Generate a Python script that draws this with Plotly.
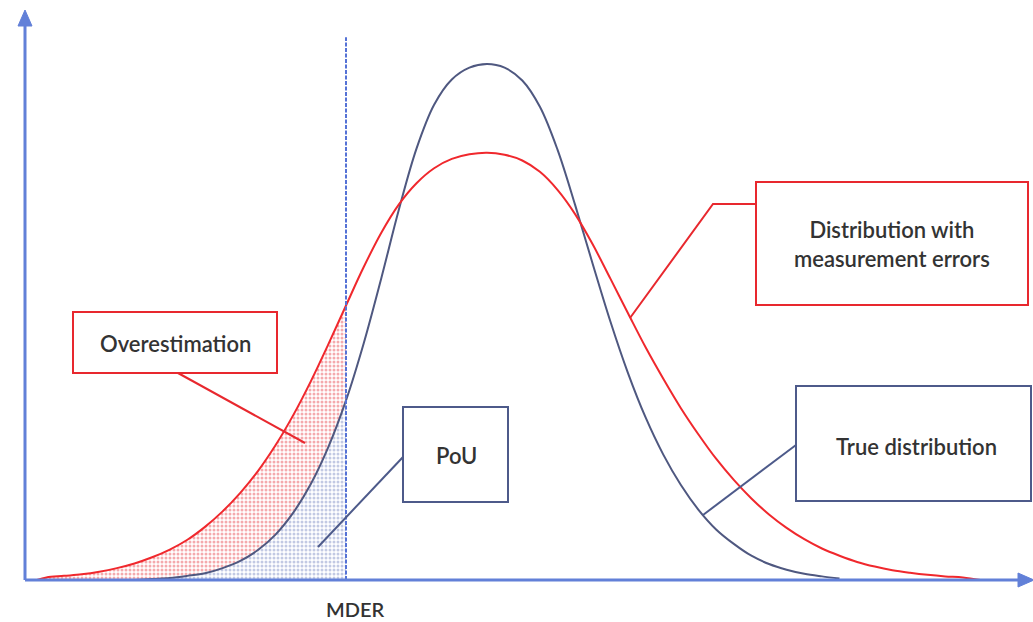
import plotly.graph_objects as go

# ---------------- data ----------------
# x: measured quantity (arbitrary units, axis origin = 0); y: relative frequency (true peak = 100)
true_x = [10.95, 12.71, 14.48, 16.24, 18.0, 19.76, 21.53, 23.29, 25.05, 26.81, 28.58, 30.34,
          32.1, 33.86, 35.63, 37.39, 39.15, 40.91, 42.68, 44.44, 46.2,
          47.96, 49.73, 51.49, 53.25, 55.01, 56.78, 58.54, 60.3, 62.06, 63.83,
          65.59, 67.35, 69.11, 70.88, 72.64, 74.4, 76.16, 77.93, 79.69, 81.45]
true_y = [0.0, 0.2, 0.4, 0.8, 1.3, 2.3, 3.7, 5.8, 8.8, 13.0, 18.6, 25.8,
          34.8, 45.8, 58.5, 71.8, 83.6, 92.1, 97.0, 99.3, 100.0,
          99.3, 96.8, 91.7, 83.4, 72.7, 61.2, 50.1, 40.1, 31.5, 24.3,
          18.4, 13.6, 9.8, 7.0, 4.7, 3.1, 2.0, 1.2, 0.7, 0.3]

meas_x = [1.2, 2.14, 3.9, 5.66, 7.43, 9.19, 10.95, 12.71, 14.48, 16.24, 18.0, 19.76, 21.53,
          23.29, 25.05, 26.81, 28.58, 30.34, 32.1, 33.86, 35.63, 37.39, 39.15, 40.91,
          42.68, 44.44, 46.2,
          47.96, 49.73, 51.49, 53.25, 55.01, 56.78, 58.54, 60.3, 62.06, 63.83, 65.59,
          67.35, 69.11, 70.88, 72.64, 74.4, 76.16, 77.93, 79.69, 81.45, 83.21, 84.98,
          86.74, 88.5, 90.26, 92.03, 93.79, 95.55]
meas_y = [0.0, 0.5, 0.8, 1.1, 1.6, 2.3, 3.2, 4.4, 5.9, 7.8, 10.3, 13.3, 16.9,
          21.1, 26.1, 31.9, 38.5, 45.7, 53.2, 60.6, 67.3, 72.8, 76.9, 79.8,
          81.6, 82.5, 82.8,
          82.4, 81.3, 79.1, 75.6, 70.9, 65.0, 58.4, 51.7, 45.1, 39.0, 33.3,
          28.2, 23.5, 19.4, 15.8, 12.7, 10.1, 7.9, 6.1, 4.7, 3.5, 2.6,
          1.9, 1.4, 1.0, 0.7, 0.5, 0.0]

mder = 32.1
mder_top = 105.2
labels = ["Overestimation", "PoU", "Distribution with<br>measurement errors",
          "True distribution", "MDER"]

# ---------------- layout helpers (pixel -> axis units) ----------------
W, H = 1033, 622
X_RANGE = [-2.5, 100.8]
Y_RANGE = [-8.14, 112.4]


def X(px):
    return X_RANGE[0] + px / W * (X_RANGE[1] - X_RANGE[0])


def Y(py):
    return Y_RANGE[1] - py / H * (Y_RANGE[1] - Y_RANGE[0])


RED = "#f0282d"
NAVY = "#4f5880"
AXIS = "#6280d8"
BOX_RED = "#e8282e"
BOX_NAVY = "#4d5a8a"
TEXT = "#333333"
FONT = "Lato"

fig = go.Figure()

# dotted fills left of MDER
rx = [x for x in meas_x if x <= mder]
ry = meas_y[:len(rx)]
bx = [x for x in true_x if x <= mder]
by = true_y[:len(bx)]

fig.add_trace(go.Scatter(
    x=rx, y=ry, mode="lines", line=dict(width=0, shape="spline", smoothing=1),
    fill="tozeroy", fillcolor="rgba(0,0,0,0)",
    fillpattern=dict(shape=".", fgcolor="#e9555c", bgcolor="rgba(255,255,255,0)",
                     size=4, solidity=0.45),
    hoverinfo="skip", showlegend=False))
fig.add_trace(go.Scatter(
    x=bx, y=by, mode="lines", line=dict(width=0, shape="spline", smoothing=1),
    fill="tozeroy", fillcolor="white",
    fillpattern=dict(shape=".", fgcolor="#8594c8", bgcolor="white", size=4, solidity=0.45),
    hoverinfo="skip", showlegend=False))

# curves
fig.add_trace(go.Scatter(x=true_x, y=true_y, mode="lines",
                         line=dict(color=NAVY, width=2, shape="spline", smoothing=1),
                         hoverinfo="skip", showlegend=False))
fig.add_trace(go.Scatter(x=meas_x, y=meas_y, mode="lines",
                         line=dict(color=RED, width=2, shape="spline", smoothing=1),
                         hoverinfo="skip", showlegend=False))

# MDER dashed line
fig.add_trace(go.Scatter(x=[mder, mder], y=[0, mder_top], mode="lines",
                         line=dict(color="#5572d6", width=2, dash="4px,1.5px"),
                         hoverinfo="skip", showlegend=False))

shapes = []
# axes with arrowheads
shapes.append(dict(type="line", x0=X(25), y0=Y(580), x1=X(25), y1=Y(24),
                   line=dict(color=AXIS, width=3)))
shapes.append(dict(type="path",
                   path=f"M {X(25)},{Y(10)} L {X(18)},{Y(26)} L {X(32)},{Y(26)} Z",
                   fillcolor=AXIS, line=dict(color=AXIS, width=1)))
shapes.append(dict(type="line", x0=X(25), y0=Y(580), x1=X(1020), y1=Y(580),
                   line=dict(color=AXIS, width=3)))
shapes.append(dict(type="path",
                   path=f"M {X(1034)},{Y(580)} L {X(1018)},{Y(573)} L {X(1018)},{Y(587)} Z",
                   fillcolor=AXIS, line=dict(color=AXIS, width=1)))


def box(x0, y0, x1, y1, color):
    shapes.append(dict(type="rect", x0=X(x0), y0=Y(y0), x1=X(x1), y1=Y(y1),
                       line=dict(color=color, width=2), fillcolor="white", layer="above"))


def seg(pts, color):
    path = "M " + " L ".join(f"{X(a)},{Y(b)}" for a, b in pts)
    shapes.append(dict(type="path", path=path, line=dict(color=color, width=2), layer="above"))


# pointers
seg([(178, 373), (305, 443)], BOX_RED)
seg([(403, 457), (318, 547)], BOX_NAVY)
seg([(756, 204), (713, 204), (630, 318)], BOX_RED)
seg([(796, 445), (703, 515)], BOX_NAVY)

# boxes
box(73, 312, 277, 373, BOX_RED)
box(403, 407, 508, 502, BOX_NAVY)
box(756, 182, 1028, 305, BOX_RED)
box(796, 386, 1031, 501, BOX_NAVY)

annotations = []


def label(text, px, py, size=22):
    annotations.append(dict(x=X(px), y=Y(py), text=text, showarrow=False,
                            font=dict(family=FONT, size=size, color=TEXT, weight=600),
                            xanchor="center", yanchor="middle"))


label(labels[0], 175, 343)
label(labels[1], 456, 455)
label(labels[2], 892, 244)
label(labels[3], 916, 446)
label(labels[4], 355, 609, size=20)

fig.update_layout(
    width=W, height=H, margin=dict(l=0, r=0, t=0, b=0, pad=0),
    paper_bgcolor="white", plot_bgcolor="white",
    xaxis=dict(range=X_RANGE, visible=False, fixedrange=True),
    yaxis=dict(range=Y_RANGE, visible=False, fixedrange=True),
    shapes=shapes, annotations=annotations, showlegend=False,
)

fig.write_html("out.html", config={"displayModeBar": False},
               post_script="document.body.style.margin='0';")
